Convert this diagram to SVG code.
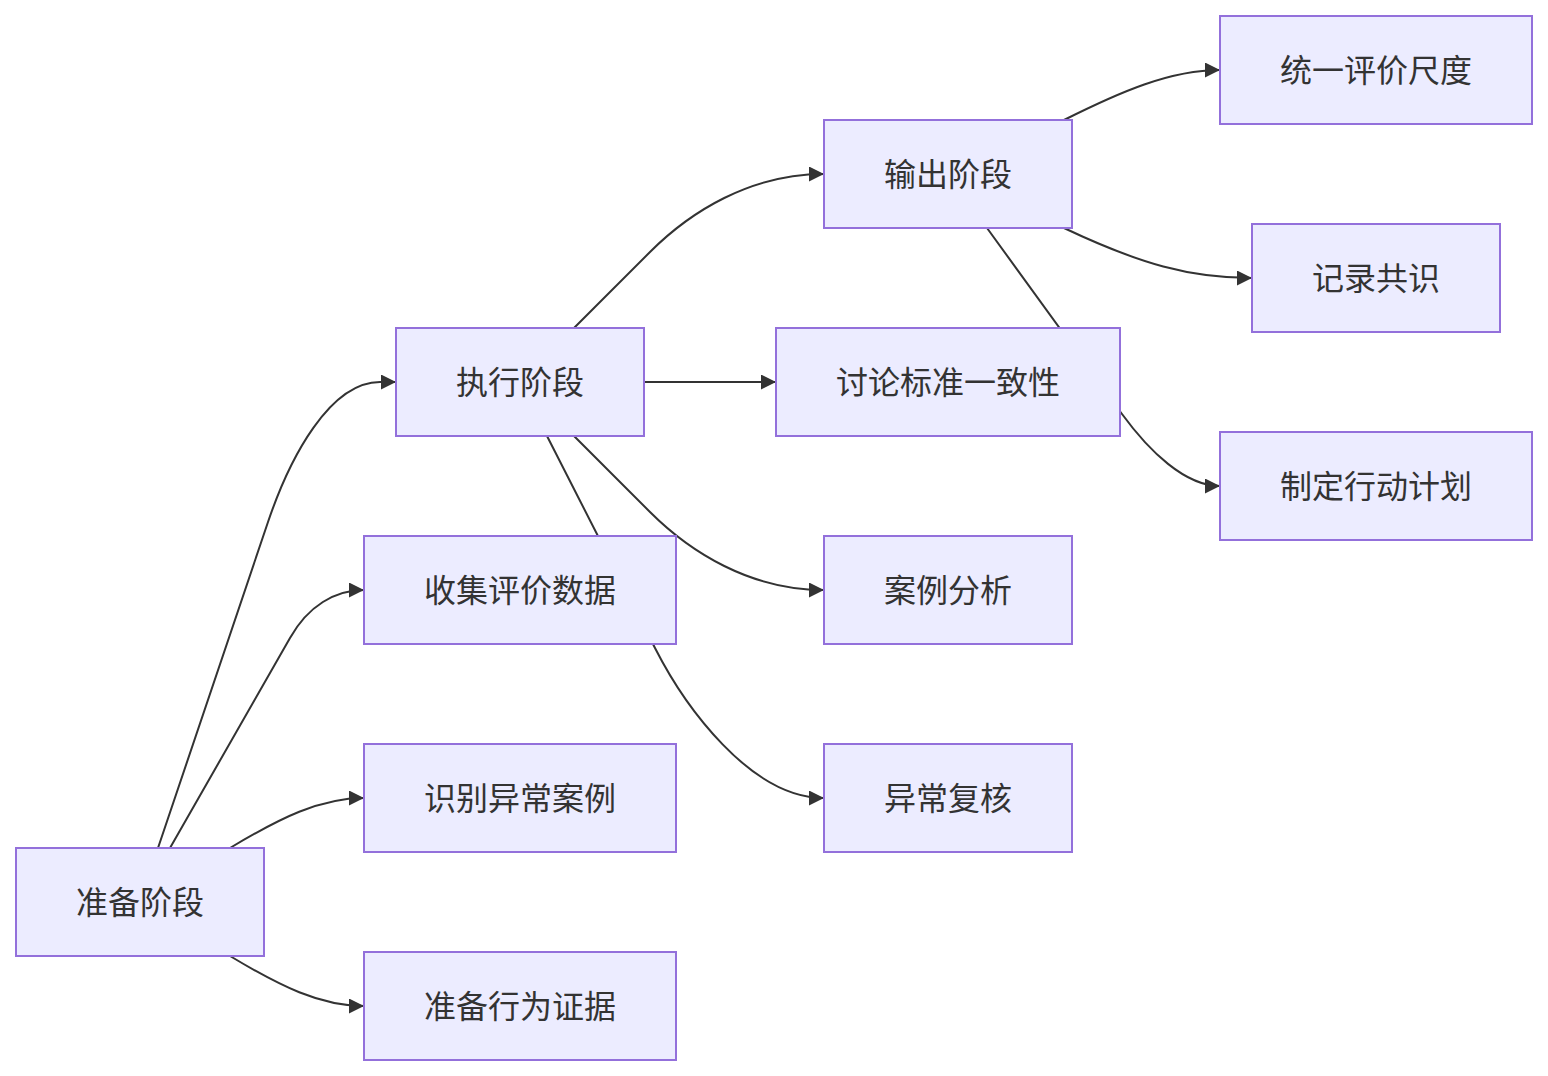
<svg xmlns="http://www.w3.org/2000/svg" width="1548" height="1076" viewBox="0 0 1548 1076">
<style>
.node rect{fill:#ECECFF;stroke:#9370DB;stroke-width:2}
.node text{font-family:"Noto Sans CJK SC","Noto Sans",sans-serif;font-size:32px;fill:#333;text-anchor:middle;dominant-baseline:central}
.edge{fill:none;stroke:#333;stroke-width:2}
</style>
<defs>
<marker id="arr" markerUnits="userSpaceOnUse" viewBox="0 0 10 10" refX="10" refY="5" markerWidth="15" markerHeight="15" orient="auto">
<path d="M0,0 L10,5 L0,10 z" fill="#333"/>
</marker>
</defs>
<rect width="1548" height="1076" fill="#fff"/>
<g id="connectors">
<path class="edge" marker-end="url(#arr)" d="M158,848 L268,522 C290,457 330,382 380,382 L396,382"/>
<path class="edge" marker-end="url(#arr)" d="M170,848 L290,638 C308,606 335,590 364,590"/>
<path class="edge" marker-end="url(#arr)" d="M230,848 C280,818 320,798 364,798"/>
<path class="edge" marker-end="url(#arr)" d="M230,956 C280,986 320,1006 364,1006"/>
<path class="edge" marker-end="url(#arr)" d="M574,328 L650,252 C690,212 750,174 824,174"/>
<path class="edge" marker-end="url(#arr)" d="M644,382 L776,382"/>
<path class="edge" marker-end="url(#arr)" d="M574,436 L650,512 C690,552 750,590 824,590"/>
<path class="edge" marker-end="url(#arr)" d="M547,436 L655,648 C684,705 750,798 824,798"/>
<path class="edge" marker-end="url(#arr)" d="M1064,120 C1120,92 1170,70 1220,70"/>
<path class="edge" marker-end="url(#arr)" d="M1064,228 C1140,264 1190,278 1252,278"/>
<path class="edge" marker-end="url(#arr)" d="M987,228 L1122,414 C1149,451 1185,486 1220,486"/>
</g>
<g id="n_prep" class="node"><rect x="16" y="848" width="248" height="108"/><text x="140" y="900">准备阶段</text></g>
<g id="n_exec" class="node"><rect x="396" y="328" width="248" height="108"/><text x="520" y="380">执行阶段</text></g>
<g id="n_collect" class="node"><rect x="364" y="536" width="312" height="108"/><text x="520" y="588">收集评价数据</text></g>
<g id="n_identify" class="node"><rect x="364" y="744" width="312" height="108"/><text x="520" y="796">识别异常案例</text></g>
<g id="n_evidence" class="node"><rect x="364" y="952" width="312" height="108"/><text x="520" y="1004">准备行为证据</text></g>
<g id="n_output" class="node"><rect x="824" y="120" width="248" height="108"/><text x="948" y="172">输出阶段</text></g>
<g id="n_discuss" class="node"><rect x="776" y="328" width="344" height="108"/><text x="948" y="380">讨论标准一致性</text></g>
<g id="n_case" class="node"><rect x="824" y="536" width="248" height="108"/><text x="948" y="588">案例分析</text></g>
<g id="n_review" class="node"><rect x="824" y="744" width="248" height="108"/><text x="948" y="796">异常复核</text></g>
<g id="n_unify" class="node"><rect x="1220" y="16" width="312" height="108"/><text x="1376" y="68">统一评价尺度</text></g>
<g id="n_record" class="node"><rect x="1252" y="224" width="248" height="108"/><text x="1376" y="276">记录共识</text></g>
<g id="n_plan" class="node"><rect x="1220" y="432" width="312" height="108"/><text x="1376" y="484">制定行动计划</text></g>
</svg>
